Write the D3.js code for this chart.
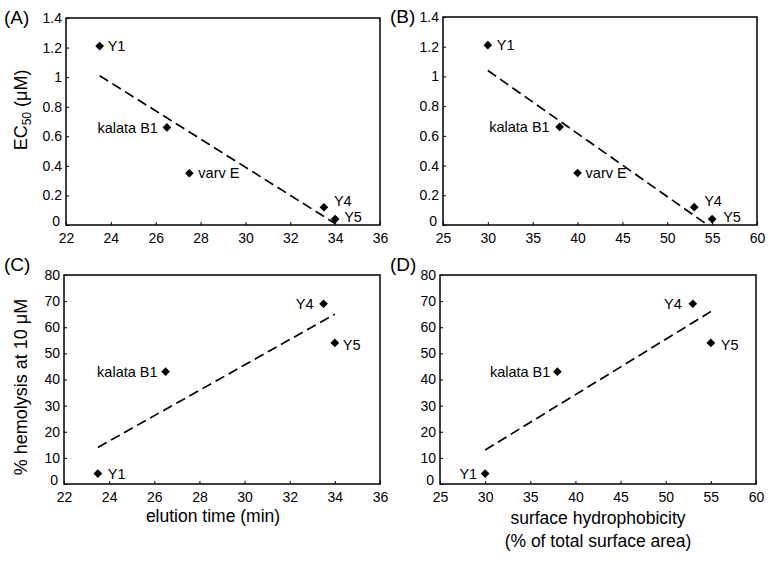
<!DOCTYPE html>
<html>
<head>
<meta charset="utf-8">
<script src="https://cdn.jsdelivr.net/npm/d3@7/dist/d3.min.js"></script>
<style>
  html, body { margin: 0; padding: 0; background: #fff; }
  svg { display: block; font-family: "Liberation Sans", Arial, Helvetica, sans-serif; }
</style>
</head>
<body>
<svg id="chart" width="774" height="566"></svg>
<script>
// ---------------- data ----------------
const peptidesEC = ["Y1", "kalata B1", "varv E", "Y4", "Y5"];
const elutionEC = [23.5, 26.5, 27.5, 33.5, 34.0];
const hydroEC = [30, 38, 40, 53, 55];
const ec50 = [1.21, 0.66, 0.35, 0.12, 0.04];

const peptidesHemo = ["Y1", "kalata B1", "Y4", "Y5"];
const elutionHemo = [23.5, 26.5, 33.5, 34.0];
const hydroHemo = [30, 38, 53, 55];
const hemolysis = [4, 43, 69, 54];

// trendline end points
const trendA = [[23.5, 1.01], [34.0, 0.01]];
const trendB = [[30, 1.04], [54.5, 0.0]];
const trendC = [[23.5, 14], [34.0, 65]];
const trendD = [[30, 13], [55, 66]];

const ticksElution = [22, 24, 26, 28, 30, 32, 34, 36];
const ticksHydro = [25, 30, 35, 40, 45, 50, 55, 60];
const ticksEC = [0, 0.2, 0.4, 0.6, 0.8, 1, 1.2, 1.4];
const ticksHemo = [0, 10, 20, 30, 40, 50, 60, 70, 80];

// ---------------- layout / styling ----------------
const svg = d3.select("#chart");
const FONT_TICK = 14, FONT_LABEL = 14.5;

const panels = [
  { id: "(A)", box: [66, 18, 380, 225], x: elutionEC, y: ec50, names: peptidesEC,
    xd: [22, 36], yd: [0, 1.4], xt: ticksElution, yt: ticksEC, trend: trendA,
    lab: { "Y1": [8, 0, "start"], "kalata B1": [-9, 0, "end"], "varv E": [9, 0, "start"], "Y4": [10, -6, "start"], "Y5": [9, -2, "start"] },
    tag: [4, 24] },
  { id: "(B)", box: [443, 17, 757, 225], x: hydroEC, y: ec50, names: peptidesEC,
    xd: [25, 60], yd: [0, 1.4], xt: ticksHydro, yt: ticksEC, trend: trendB,
    lab: { "Y1": [9, 0, "start"], "kalata B1": [-10, 0, "end"], "varv E": [8, 0, "start"], "Y4": [10, -6, "start"], "Y5": [11, -2, "start"] },
    tag: [390, 23] },
  { id: "(C)", box: [64, 275, 380, 484], x: elutionHemo, y: hemolysis, names: peptidesHemo,
    xd: [22, 36], yd: [0, 80], xt: ticksElution, yt: ticksHemo, trend: trendC,
    lab: { "Y1": [10, 0, "start"], "kalata B1": [-8, 0, "end"], "Y4": [-10, 0, "end"], "Y5": [8, 2, "start"] },
    tag: [4, 271] },
  { id: "(D)", box: [440, 275, 756, 484], x: hydroHemo, y: hemolysis, names: peptidesHemo,
    xd: [25, 60], yd: [0, 80], xt: ticksHydro, yt: ticksHemo, trend: trendD,
    lab: { "Y1": [-8, 0, "end"], "kalata B1": [-7, 0, "end"], "Y4": [-11, 0, "end"], "Y5": [10, 2, "start"] },
    tag: [390, 271] }
];

const diamond = d3.symbol().type(d3.symbolSquare).size(38);

panels.forEach(p => {
  const [x0, y0, x1, y1] = p.box;
  const xs = d3.scaleLinear().domain(p.xd).range([x0, x1]);
  const ys = d3.scaleLinear().domain(p.yd).range([y1, y0]);
  const g = svg.append("g");

  // x axis (ticks inside, labels below)
  const xAxis = d3.axisBottom(xs).tickValues(p.xt).tickSizeInner(-3).tickSizeOuter(0)
    .tickPadding(6).tickFormat(d3.format("d"));
  const gx = g.append("g").attr("transform", `translate(0,${y1})`).call(xAxis);
  gx.select(".domain").remove();
  gx.selectAll(".tick line").attr("stroke", "#000").attr("stroke-width", 1);
  gx.selectAll(".tick text").attr("font-size", FONT_TICK).attr("fill", "#000")
    .attr("y", 5).attr("dy", "0.92em");

  // y axis
  const yAxis = d3.axisLeft(ys).tickValues(p.yt).tickSizeInner(-3).tickSizeOuter(0)
    .tickPadding(5).tickFormat(d => String(+d.toFixed(1)));
  const gy = g.append("g").attr("transform", `translate(${x0},0)`).call(yAxis);
  gy.select(".domain").remove();
  gy.selectAll(".tick line").attr("stroke", "#000").attr("stroke-width", 1);
  gy.selectAll(".tick text").attr("font-size", FONT_TICK).attr("fill", "#000").attr("x", -4);
  // the zero label sits a little up-left of the corner so it clears the x labels
  gy.selectAll(".tick text").filter(d => d === 0).attr("x", -6).attr("y", -4);

  // frame
  g.append("rect").attr("x", x0).attr("y", y0).attr("width", x1 - x0).attr("height", y1 - y0)
    .attr("fill", "none").attr("stroke", "#000").attr("stroke-width", 1.5);

  // trendline
  g.append("path")
    .attr("d", d3.line().x(d => xs(d[0])).y(d => ys(d[1]))(p.trend))
    .attr("fill", "none").attr("stroke", "#000").attr("stroke-width", 1.7)
    .attr("stroke-dasharray", "10,5");

  // points
  const pts = p.names.map((n, i) => ({ n, x: p.x[i], y: p.y[i] }));
  g.selectAll("path.pt").data(pts).join("path").attr("class", "pt")
    .attr("d", diamond)
    .attr("transform", d => `translate(${xs(d.x)},${ys(d.y)}) rotate(45)`)
    .attr("fill", "#000");

  g.selectAll("text.lab").data(pts).join("text").attr("class", "lab")
    .attr("x", d => xs(d.x) + p.lab[d.n][0])
    .attr("y", d => ys(d.y) + p.lab[d.n][1])
    .attr("dy", "0.36em")
    .attr("text-anchor", d => p.lab[d.n][2])
    .attr("font-size", FONT_LABEL).attr("fill", "#000")
    .text(d => d.n);

  // panel tag
  svg.append("text").attr("x", p.tag[0]).attr("y", p.tag[1])
    .attr("font-size", 19).attr("fill", "#000").text(p.id);
});

// axis titles
const t1 = svg.append("text").attr("transform", "translate(27,110) rotate(-90)")
  .attr("text-anchor", "middle").attr("font-size", 18).attr("fill", "#000");
t1.append("tspan").text("EC");
t1.append("tspan").attr("font-size", 12).attr("dy", 4).text("50");
t1.append("tspan").attr("dy", -4).text(" (\u03BCM)");

svg.append("text").attr("transform", "translate(27,387) rotate(-90)")
  .attr("text-anchor", "middle").attr("font-size", 18).attr("fill", "#000")
  .text("% hemolysis at 10 \u03BCM");

svg.append("text").attr("x", 213).attr("y", 522).attr("text-anchor", "middle")
  .attr("font-size", 17.5).attr("fill", "#000").text("elution time (min)");

svg.append("text").attr("x", 598).attr("y", 524).attr("text-anchor", "middle")
  .attr("font-size", 17.5).attr("fill", "#000").text("surface hydrophobicity");
svg.append("text").attr("x", 598).attr("y", 547).attr("text-anchor", "middle")
  .attr("font-size", 17.5).attr("fill", "#000").text("(% of total surface area)");
</script>
</body>
</html>
